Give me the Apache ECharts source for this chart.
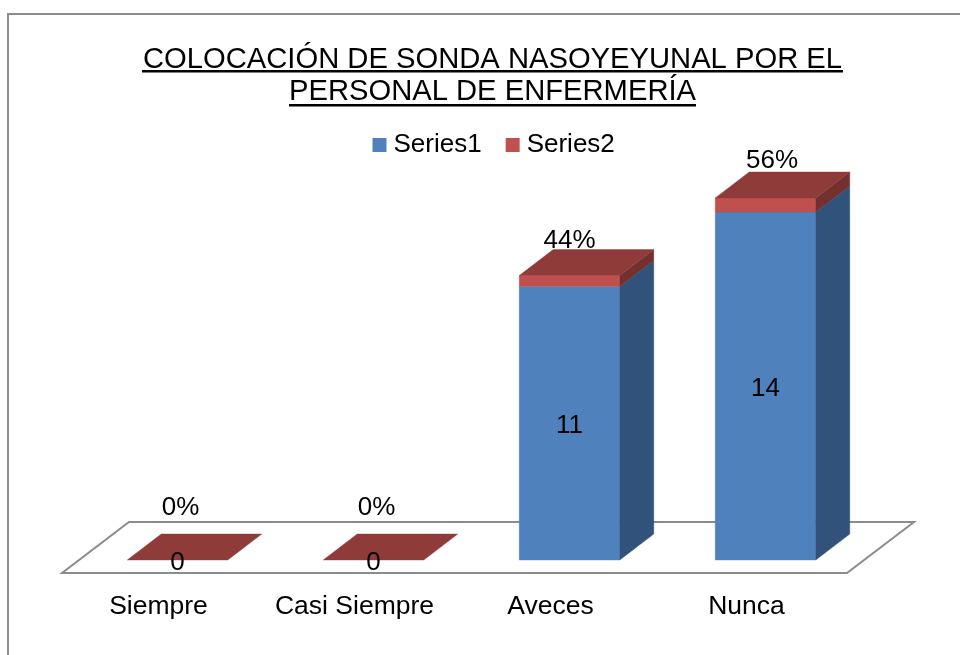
<!DOCTYPE html>
<html>
<head>
<meta charset="utf-8">
<style>html,body{margin:0;padding:0;background:#fff}#c{width:960px;height:655px}</style>
<script src="https://cdn.jsdelivr.net/npm/echarts@6/dist/echarts.min.js"></script>
</head>
<body>
<div id="c"></div>
<script>
const categories = ['Siempre', 'Casi Siempre', 'Aveces', 'Nunca'];
const series1 = [0, 0, 11, 14];
const series2 = [0, 0, 0.44, 0.56];
const titleLines = ['COLOCACIÓN DE SONDA NASOYEYUNAL POR EL', 'PERSONAL DE ENFERMERÍA'];

const FONT = '"Liberation Sans", Arial, sans-serif';
const DX = 34, DY = -26, BAR_RATIO = 0.513;
const PCT_SHIFT = [[3, -52], [3, -52], [0, -35], [6.5, -37]];

function poly(pts, fill) {
  return { type: 'polygon', shape: { points: pts }, style: { fill: fill, stroke: fill, lineWidth: 0.4 } };
}
function box(colors, showLabel) {
  return function (params, api) {
    const i = api.value(0);
    const base = api.value(1), top = api.value(2);
    const c = api.coord([i, 0]);
    const w = api.size([1, 0])[0] * BAR_RATIO;
    const x0 = c[0] - w / 2, x1 = c[0] + w / 2;
    const y0 = api.coord([i, base])[1], y1 = api.coord([i, top])[1];
    const kids = [];
    if (top > base) {
      kids.push(poly([[x0, y0], [x1, y0], [x1, y1], [x0, y1]], colors.front));
      kids.push(poly([[x1, y0], [x1 + DX, y0 + DY], [x1 + DX, y1 + DY], [x1, y1]], colors.side));
    }
    if (colors.top) {
      kids.push(poly([[x0, y1], [x1, y1], [x1 + DX, y1 + DY], [x0 + DX, y1 + DY]], colors.top));
    }
    kids.push(showLabel(i, c[0], y0, y1, api.value(3)));
    return { type: 'group', children: kids };
  };
}
function txt(s, x, y) {
  return { type: 'text', z2: 100, style: { text: s, x: x, y: y, fill: '#000', font: '26px ' + FONT, align: 'center', verticalAlign: 'middle' } };
}
const countLabel = (i, cx, y0, y1, v) => txt(String(v), cx, (y0 + y1) / 2 + 3);
const pctLabel = (i, cx, y0, y1, v) => txt(Math.round(v * 100) + '%', cx + PCT_SHIFT[i][0], y1 + PCT_SHIFT[i][1]);

const data1 = categories.map((_, i) => [i, 0, series1[i], series1[i]]);
const data2 = categories.map((_, i) => [i, series1[i], series1[i] + series2[i], series2[i]]);

const titleStyle = { fontFamily: FONT, fontWeight: 'normal', fontSize: 29.2, color: '#000', lineHeight: 32 };
const chart = echarts.init(document.getElementById('c'), null, { renderer: 'canvas' });
chart.setOption({
  animation: false,
  backgroundColor: '#fff',
  title: [
    { text: titleLines[0], left: 492.5, top: 44, padding: 0, textAlign: 'center', textStyle: titleStyle },
    { text: titleLines[1], left: 492.5, top: 76, padding: 0, textAlign: 'center', textStyle: titleStyle }
  ],
  legend: {
    left: 372.5, top: 132, padding: 0, itemWidth: 14, itemHeight: 14, itemGap: 24, icon: 'rect',
    textStyle: { fontFamily: FONT, fontSize: 26, color: '#000', padding: [0, 0, 0, 2] },
    data: ['Series1', 'Series2']
  },
  grid: { left: 79.5, width: 784, top: 162.2, bottom: 95 },
  xAxis: {
    type: 'category', data: categories,
    axisLine: { show: false }, axisTick: { show: false },
    axisLabel: { interval: 0, margin: 33, color: '#000', fontFamily: FONT, fontSize: 26.5, padding: [0, 38, 0, 0] }
  },
  yAxis: { type: 'value', min: 0, max: 16, show: false, splitLine: { show: false } },
  graphic: [
    { type: 'polyline', silent: true, shape: { points: [[8, 655], [8, 14], [960, 14]] }, style: { stroke: '#8c8c8c', lineWidth: 2, fill: null } },
    { type: 'polygon', silent: true, shape: { points: [[62, 573], [847, 573], [914, 522], [129, 522]] }, style: { stroke: '#8c8c8c', lineWidth: 2, fill: '#fff' } },
    { type: 'rect', silent: true, shape: { x: 142, y: 70, width: 701, height: 2.6 }, style: { fill: '#000' } },
    { type: 'rect', silent: true, shape: { x: 289, y: 104, width: 407, height: 2.6 }, style: { fill: '#000' } }
  ],
  series: [
    {
      name: 'Series1', type: 'custom', coordinateSystem: 'cartesian2d', data: data1, clip: false,
      encode: { x: 0, y: 2 }, itemStyle: { color: '#4F81BD' },
      renderItem: box({ front: '#4F81BD', side: '#31527A' }, countLabel)
    },
    {
      name: 'Series2', type: 'custom', coordinateSystem: 'cartesian2d', data: data2, clip: false,
      encode: { x: 0, y: 2 }, itemStyle: { color: '#C0504D' },
      renderItem: box({ front: '#C0504D', side: '#74302E', top: '#8E3B39' }, pctLabel)
    }
  ]
});
</script>
</body>
</html>
